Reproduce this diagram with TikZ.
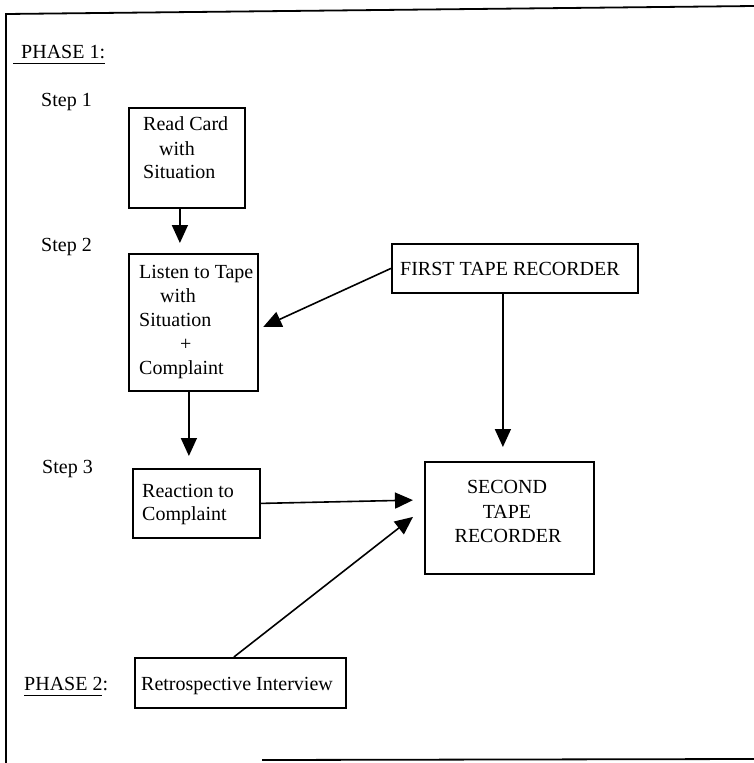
\documentclass[tikz,border=0pt]{standalone}
\usepackage{fontspec}
\setmainfont{Liberation Serif}
\usetikzlibrary{arrows.meta}
\begin{document}
\begin{tikzpicture}[x=1pt,y=-1pt,
  box/.style={draw, line width=1.8pt, inner sep=0pt, anchor=north west},
  lbl/.style={anchor=base west, inner sep=0pt, font=\fontsize{20}{24}\selectfont},
  ctr/.style={anchor=base, inner sep=0pt, font=\fontsize{20}{24}\selectfont},
  arr/.style={line width=1.6pt, -{Triangle[length=18pt,width=16pt]}},
  frame/.style={line width=1.8pt},
  uline/.style={line width=1pt}]
\useasboundingbox (0,0) rectangle (754,763);
% frame
\draw[frame] (6,763) -- (6,14) -- (754,6);
\draw[frame] (262,760) -- (754,759);
% boxes
\node[box, minimum width=116pt, minimum height=100pt] (read) at (128,107) {};
\node[box, minimum width=129pt, minimum height=137pt] (listen) at (128,253) {};
\node[box, minimum width=246pt, minimum height=49pt] (first) at (391,243) {};
\node[box, minimum width=127pt, minimum height=69pt] (react) at (132,468) {};
\node[box, minimum width=169pt, minimum height=112pt] (second) at (424,461) {};
\node[box, minimum width=211pt, minimum height=50pt] (retro) at (134,657) {};
% labels
\node[lbl] (ph1) at (21,58) {PHASE 1:};
\draw[uline] (13,63) -- (105,63);
\node[lbl] (s1) at (41,106) {Step 1};
\node[lbl] (s2) at (41,251) {Step 2};
\node[lbl] (s3) at (42,473) {Step 3};
\node[lbl] (ph2) at (24,690) {PHASE 2:};
\draw[uline] (24,695) -- (102,695);
% box texts
\node[lbl] (ra) at (143,130) {Read Card};
\node[lbl] (rb) at (159,155) {with};
\node[lbl] (rc) at (143,178) {Situation};
\node[lbl] (la) at (139,278) {Listen to Tape};
\node[lbl] (lb) at (160,302) {with};
\node[lbl] (lc) at (139,326) {Situation};
\node[lbl] (ld) at (180,350) {+};
\node[lbl] (le) at (139,374) {Complaint};
\node[lbl] (fa) at (400,275) {FIRST TAPE RECORDER};
\node[ctr] (sa) at (507,493) {SECOND};
\node[ctr] (sb) at (507,518) {TAPE};
\node[ctr] (sc) at (508,542) {RECORDER};
\node[lbl] (ca) at (142,497) {Reaction to};
\node[lbl] (cb) at (142,520) {Complaint};
\node[lbl] (ia) at (141,690) {Retrospective Interview};
% arrows
\draw[arr, shorten >=10pt] ([xshift=-7pt]read.south) -- ([xshift=-7pt]read.south |- listen.north);
\draw[arr, shorten >=5pt] (first.west) -- ([yshift=-6.5pt]listen.east);
\draw[arr, shorten >=14pt] ([xshift=-12pt]first.south) -- ([xshift=-12pt]first.south |- second.north);
\draw[arr, shorten >=12pt] ([xshift=-4.5pt]listen.south) -- ([xshift=-4.5pt]listen.south |- react.north);
\draw[arr, shorten >=11pt] (react.east) -- ([yshift=18pt]second.west);
\draw[arr, shorten >=14pt] ([xshift=-6.5pt]retro.north) -- ([yshift=9.6pt]second.west);
\end{tikzpicture}
\end{document}
